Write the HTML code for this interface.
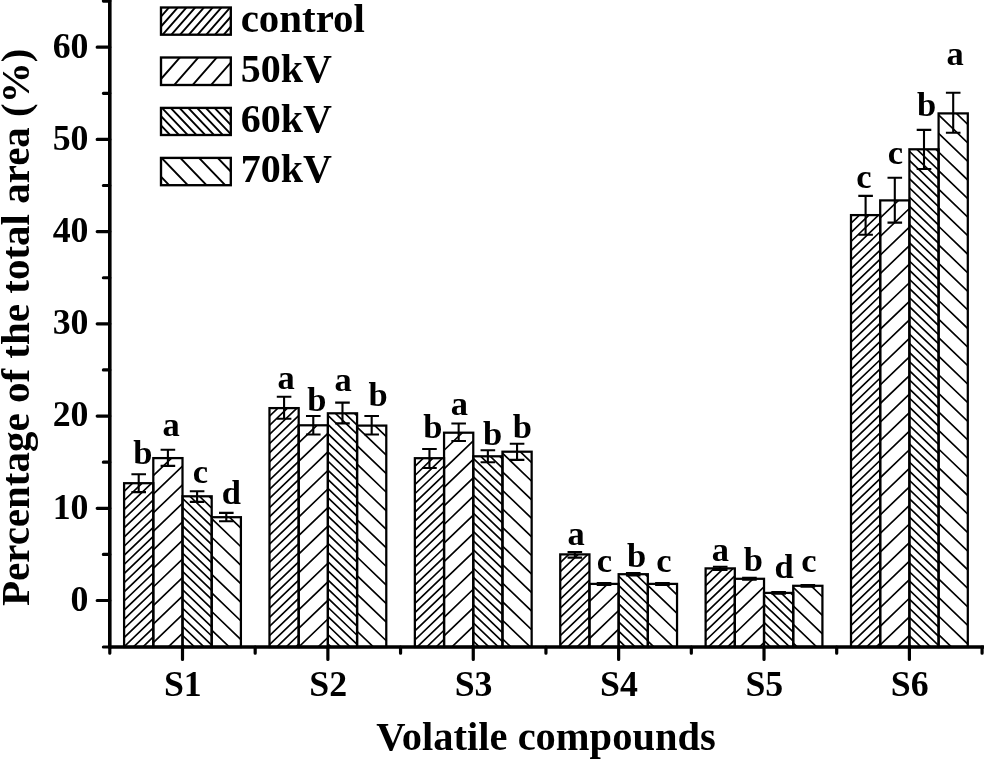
<!DOCTYPE html>
<html><head><meta charset="utf-8"><title>Volatile compounds</title>
<style>
html,body{margin:0;padding:0;background:#fff;}
body{width:984px;height:759px;overflow:hidden;}
svg{display:block;}
text{font-family:"Liberation Serif","Times New Roman",serif;font-weight:bold;fill:#000;}
.t32{font-size:35.8px;}
.t34{font-size:34.5px;}
.t39{font-size:40px;}
.t40{font-size:40.5px;}
.t41{font-size:41px;}
.h{stroke:#000;stroke-width:1.65;fill:none;}
.b{stroke:#000;stroke-width:2.25;fill:none;}
.lh{stroke:#000;stroke-width:1.9;fill:none;}
.lb{stroke:#000;stroke-width:2.35;fill:none;}
.e{stroke:#000;stroke-width:2.1;fill:none;}
.a{stroke:#000;stroke-width:3.6;fill:none;stroke-linecap:butt;}
.tk{stroke:#000;stroke-width:3.2;fill:none;stroke-linecap:round;}
</style></head><body>
<svg width="984" height="759" viewBox="0 0 984 759">
<rect width="984" height="759" fill="#fff"/>

<g id="bars">
<clipPath id="c1"><rect x="124.10" y="483.20" width="29.20" height="163.80"/></clipPath>
<path class="h" clip-path="url(#c1)" d="M124.10 491.34L153.30 463.31M124.10 500.48L153.30 472.45M124.10 509.62L153.30 481.59M124.10 518.76L153.30 490.73M124.10 527.90L153.30 499.87M124.10 537.04L153.30 509.01M124.10 546.18L153.30 518.15M124.10 555.32L153.30 527.29M124.10 564.46L153.30 536.43M124.10 573.60L153.30 545.57M124.10 582.74L153.30 554.71M124.10 591.88L153.30 563.85M124.10 601.02L153.30 572.99M124.10 610.16L153.30 582.13M124.10 619.30L153.30 591.27M124.10 628.44L153.30 600.41M124.10 637.58L153.30 609.55M124.10 646.72L153.30 618.69M124.10 655.86L153.30 627.83M124.10 665.00L153.30 636.97M124.10 674.14L153.30 646.11"/>
<rect class="b" x="124.10" y="483.20" width="29.20" height="163.80"/>
<clipPath id="c2"><rect x="153.30" y="458.10" width="29.20" height="188.90"/></clipPath>
<path class="h" clip-path="url(#c2)" d="M153.30 475.66L182.50 447.63M153.30 494.22L182.50 466.19M153.30 512.78L182.50 484.75M153.30 531.34L182.50 503.31M153.30 549.90L182.50 521.87M153.30 568.46L182.50 540.43M153.30 587.02L182.50 558.99M153.30 605.58L182.50 577.55M153.30 624.14L182.50 596.11M153.30 642.70L182.50 614.67M153.30 661.26L182.50 633.23"/>
<rect class="b" x="153.30" y="458.10" width="29.20" height="188.90"/>
<clipPath id="c3"><rect x="182.50" y="496.30" width="29.20" height="150.70"/></clipPath>
<path class="h" clip-path="url(#c3)" d="M182.50 470.88L211.70 498.91M182.50 480.02L211.70 508.05M182.50 489.16L211.70 517.19M182.50 498.30L211.70 526.33M182.50 507.44L211.70 535.47M182.50 516.58L211.70 544.61M182.50 525.72L211.70 553.75M182.50 534.86L211.70 562.89M182.50 544.00L211.70 572.03M182.50 553.14L211.70 581.17M182.50 562.28L211.70 590.31M182.50 571.42L211.70 599.45M182.50 580.56L211.70 608.59M182.50 589.70L211.70 617.73M182.50 598.84L211.70 626.87M182.50 607.98L211.70 636.01M182.50 617.12L211.70 645.15M182.50 626.26L211.70 654.29M182.50 635.40L211.70 663.43M182.50 644.54L211.70 672.57"/>
<rect class="b" x="182.50" y="496.30" width="29.20" height="150.70"/>
<clipPath id="c4"><rect x="211.70" y="517.20" width="29.20" height="129.80"/></clipPath>
<path class="h" clip-path="url(#c4)" d="M211.70 500.14L240.90 528.17M211.70 518.70L240.90 546.73M211.70 537.26L240.90 565.29M211.70 555.82L240.90 583.85M211.70 574.38L240.90 602.41M211.70 592.94L240.90 620.97M211.70 611.50L240.90 639.53M211.70 630.06L240.90 658.09"/>
<rect class="b" x="211.70" y="517.20" width="29.20" height="129.80"/>
<clipPath id="c5"><rect x="269.48" y="408.10" width="29.20" height="238.90"/></clipPath>
<path class="h" clip-path="url(#c5)" d="M269.48 416.24L298.68 388.21M269.48 425.38L298.68 397.35M269.48 434.52L298.68 406.49M269.48 443.66L298.68 415.63M269.48 452.80L298.68 424.77M269.48 461.94L298.68 433.91M269.48 471.08L298.68 443.05M269.48 480.22L298.68 452.19M269.48 489.36L298.68 461.33M269.48 498.50L298.68 470.47M269.48 507.64L298.68 479.61M269.48 516.78L298.68 488.75M269.48 525.92L298.68 497.89M269.48 535.06L298.68 507.03M269.48 544.20L298.68 516.17M269.48 553.34L298.68 525.31M269.48 562.48L298.68 534.45M269.48 571.62L298.68 543.59M269.48 580.76L298.68 552.73M269.48 589.90L298.68 561.87M269.48 599.04L298.68 571.01M269.48 608.18L298.68 580.15M269.48 617.32L298.68 589.29M269.48 626.46L298.68 598.43M269.48 635.60L298.68 607.57M269.48 644.74L298.68 616.71M269.48 653.88L298.68 625.85M269.48 663.02L298.68 634.99M269.48 672.16L298.68 644.13"/>
<rect class="b" x="269.48" y="408.10" width="29.20" height="238.90"/>
<clipPath id="c6"><rect x="298.68" y="425.30" width="29.20" height="221.70"/></clipPath>
<path class="h" clip-path="url(#c6)" d="M298.68 442.86L327.88 414.83M298.68 461.42L327.88 433.39M298.68 479.98L327.88 451.95M298.68 498.54L327.88 470.51M298.68 517.10L327.88 489.07M298.68 535.66L327.88 507.63M298.68 554.22L327.88 526.19M298.68 572.78L327.88 544.75M298.68 591.34L327.88 563.31M298.68 609.90L327.88 581.87M298.68 628.46L327.88 600.43M298.68 647.02L327.88 618.99M298.68 665.58L327.88 637.55"/>
<rect class="b" x="298.68" y="425.30" width="29.20" height="221.70"/>
<clipPath id="c7"><rect x="327.88" y="413.30" width="29.20" height="233.70"/></clipPath>
<path class="h" clip-path="url(#c7)" d="M327.88 387.88L357.08 415.91M327.88 397.02L357.08 425.05M327.88 406.16L357.08 434.19M327.88 415.30L357.08 443.33M327.88 424.44L357.08 452.47M327.88 433.58L357.08 461.61M327.88 442.72L357.08 470.75M327.88 451.86L357.08 479.89M327.88 461.00L357.08 489.03M327.88 470.14L357.08 498.17M327.88 479.28L357.08 507.31M327.88 488.42L357.08 516.45M327.88 497.56L357.08 525.59M327.88 506.70L357.08 534.73M327.88 515.84L357.08 543.87M327.88 524.98L357.08 553.01M327.88 534.12L357.08 562.15M327.88 543.26L357.08 571.29M327.88 552.40L357.08 580.43M327.88 561.54L357.08 589.57M327.88 570.68L357.08 598.71M327.88 579.82L357.08 607.85M327.88 588.96L357.08 616.99M327.88 598.10L357.08 626.13M327.88 607.24L357.08 635.27M327.88 616.38L357.08 644.41M327.88 625.52L357.08 653.55M327.88 634.66L357.08 662.69M327.88 643.80L357.08 671.83"/>
<rect class="b" x="327.88" y="413.30" width="29.20" height="233.70"/>
<clipPath id="c8"><rect x="357.08" y="425.60" width="29.20" height="221.40"/></clipPath>
<path class="h" clip-path="url(#c8)" d="M357.08 408.54L386.28 436.57M357.08 427.10L386.28 455.13M357.08 445.66L386.28 473.69M357.08 464.22L386.28 492.25M357.08 482.78L386.28 510.81M357.08 501.34L386.28 529.37M357.08 519.90L386.28 547.93M357.08 538.46L386.28 566.49M357.08 557.02L386.28 585.05M357.08 575.58L386.28 603.61M357.08 594.14L386.28 622.17M357.08 612.70L386.28 640.73M357.08 631.26L386.28 659.29"/>
<rect class="b" x="357.08" y="425.60" width="29.20" height="221.40"/>
<clipPath id="c9"><rect x="414.86" y="458.20" width="29.20" height="188.80"/></clipPath>
<path class="h" clip-path="url(#c9)" d="M414.86 466.34L444.06 438.31M414.86 475.48L444.06 447.45M414.86 484.62L444.06 456.59M414.86 493.76L444.06 465.73M414.86 502.90L444.06 474.87M414.86 512.04L444.06 484.01M414.86 521.18L444.06 493.15M414.86 530.32L444.06 502.29M414.86 539.46L444.06 511.43M414.86 548.60L444.06 520.57M414.86 557.74L444.06 529.71M414.86 566.88L444.06 538.85M414.86 576.02L444.06 547.99M414.86 585.16L444.06 557.13M414.86 594.30L444.06 566.27M414.86 603.44L444.06 575.41M414.86 612.58L444.06 584.55M414.86 621.72L444.06 593.69M414.86 630.86L444.06 602.83M414.86 640.00L444.06 611.97M414.86 649.14L444.06 621.11M414.86 658.28L444.06 630.25M414.86 667.42L444.06 639.39"/>
<rect class="b" x="414.86" y="458.20" width="29.20" height="188.80"/>
<clipPath id="c10"><rect x="444.06" y="432.70" width="29.20" height="214.30"/></clipPath>
<path class="h" clip-path="url(#c10)" d="M444.06 450.26L473.26 422.23M444.06 468.82L473.26 440.79M444.06 487.38L473.26 459.35M444.06 505.94L473.26 477.91M444.06 524.50L473.26 496.47M444.06 543.06L473.26 515.03M444.06 561.62L473.26 533.59M444.06 580.18L473.26 552.15M444.06 598.74L473.26 570.71M444.06 617.30L473.26 589.27M444.06 635.86L473.26 607.83M444.06 654.42L473.26 626.39M444.06 672.98L473.26 644.95"/>
<rect class="b" x="444.06" y="432.70" width="29.20" height="214.30"/>
<clipPath id="c11"><rect x="473.26" y="456.30" width="29.20" height="190.70"/></clipPath>
<path class="h" clip-path="url(#c11)" d="M473.26 430.88L502.46 458.91M473.26 440.02L502.46 468.05M473.26 449.16L502.46 477.19M473.26 458.30L502.46 486.33M473.26 467.44L502.46 495.47M473.26 476.58L502.46 504.61M473.26 485.72L502.46 513.75M473.26 494.86L502.46 522.89M473.26 504.00L502.46 532.03M473.26 513.14L502.46 541.17M473.26 522.28L502.46 550.31M473.26 531.42L502.46 559.45M473.26 540.56L502.46 568.59M473.26 549.70L502.46 577.73M473.26 558.84L502.46 586.87M473.26 567.98L502.46 596.01M473.26 577.12L502.46 605.15M473.26 586.26L502.46 614.29M473.26 595.40L502.46 623.43M473.26 604.54L502.46 632.57M473.26 613.68L502.46 641.71M473.26 622.82L502.46 650.85M473.26 631.96L502.46 659.99M473.26 641.10L502.46 669.13"/>
<rect class="b" x="473.26" y="456.30" width="29.20" height="190.70"/>
<clipPath id="c12"><rect x="502.46" y="451.70" width="29.20" height="195.30"/></clipPath>
<path class="h" clip-path="url(#c12)" d="M502.46 434.64L531.66 462.67M502.46 453.20L531.66 481.23M502.46 471.76L531.66 499.79M502.46 490.32L531.66 518.35M502.46 508.88L531.66 536.91M502.46 527.44L531.66 555.47M502.46 546.00L531.66 574.03M502.46 564.56L531.66 592.59M502.46 583.12L531.66 611.15M502.46 601.68L531.66 629.71M502.46 620.24L531.66 648.27M502.46 638.80L531.66 666.83"/>
<rect class="b" x="502.46" y="451.70" width="29.20" height="195.30"/>
<clipPath id="c13"><rect x="560.24" y="554.40" width="29.20" height="92.60"/></clipPath>
<path class="h" clip-path="url(#c13)" d="M560.24 562.54L589.44 534.51M560.24 571.68L589.44 543.65M560.24 580.82L589.44 552.79M560.24 589.96L589.44 561.93M560.24 599.10L589.44 571.07M560.24 608.24L589.44 580.21M560.24 617.38L589.44 589.35M560.24 626.52L589.44 598.49M560.24 635.66L589.44 607.63M560.24 644.80L589.44 616.77M560.24 653.94L589.44 625.91M560.24 663.08L589.44 635.05M560.24 672.22L589.44 644.19"/>
<rect class="b" x="560.24" y="554.40" width="29.20" height="92.60"/>
<clipPath id="c14"><rect x="589.44" y="583.90" width="29.20" height="63.10"/></clipPath>
<path class="h" clip-path="url(#c14)" d="M589.44 601.46L618.64 573.43M589.44 620.02L618.64 591.99M589.44 638.58L618.64 610.55M589.44 657.14L618.64 629.11"/>
<rect class="b" x="589.44" y="583.90" width="29.20" height="63.10"/>
<clipPath id="c15"><rect x="618.64" y="574.20" width="29.20" height="72.80"/></clipPath>
<path class="h" clip-path="url(#c15)" d="M618.64 548.78L647.84 576.81M618.64 557.92L647.84 585.95M618.64 567.06L647.84 595.09M618.64 576.20L647.84 604.23M618.64 585.34L647.84 613.37M618.64 594.48L647.84 622.51M618.64 603.62L647.84 631.65M618.64 612.76L647.84 640.79M618.64 621.90L647.84 649.93M618.64 631.04L647.84 659.07M618.64 640.18L647.84 668.21"/>
<rect class="b" x="618.64" y="574.20" width="29.20" height="72.80"/>
<clipPath id="c16"><rect x="647.84" y="583.90" width="29.20" height="63.10"/></clipPath>
<path class="h" clip-path="url(#c16)" d="M647.84 566.84L677.04 594.87M647.84 585.40L677.04 613.43M647.84 603.96L677.04 631.99M647.84 622.52L677.04 650.55M647.84 641.08L677.04 669.11"/>
<rect class="b" x="647.84" y="583.90" width="29.20" height="63.10"/>
<clipPath id="c17"><rect x="705.62" y="568.40" width="29.20" height="78.60"/></clipPath>
<path class="h" clip-path="url(#c17)" d="M705.62 576.54L734.82 548.51M705.62 585.68L734.82 557.65M705.62 594.82L734.82 566.79M705.62 603.96L734.82 575.93M705.62 613.10L734.82 585.07M705.62 622.24L734.82 594.21M705.62 631.38L734.82 603.35M705.62 640.52L734.82 612.49M705.62 649.66L734.82 621.63M705.62 658.80L734.82 630.77M705.62 667.94L734.82 639.91"/>
<rect class="b" x="705.62" y="568.40" width="29.20" height="78.60"/>
<clipPath id="c18"><rect x="734.82" y="578.80" width="29.20" height="68.20"/></clipPath>
<path class="h" clip-path="url(#c18)" d="M734.82 596.36L764.02 568.33M734.82 614.92L764.02 586.89M734.82 633.48L764.02 605.45M734.82 652.04L764.02 624.01M734.82 670.60L764.02 642.57"/>
<rect class="b" x="734.82" y="578.80" width="29.20" height="68.20"/>
<clipPath id="c19"><rect x="764.02" y="592.90" width="29.20" height="54.10"/></clipPath>
<path class="h" clip-path="url(#c19)" d="M764.02 567.48L793.22 595.51M764.02 576.62L793.22 604.65M764.02 585.76L793.22 613.79M764.02 594.90L793.22 622.93M764.02 604.04L793.22 632.07M764.02 613.18L793.22 641.21M764.02 622.32L793.22 650.35M764.02 631.46L793.22 659.49M764.02 640.60L793.22 668.63"/>
<rect class="b" x="764.02" y="592.90" width="29.20" height="54.10"/>
<clipPath id="c20"><rect x="793.22" y="585.80" width="29.20" height="61.20"/></clipPath>
<path class="h" clip-path="url(#c20)" d="M793.22 568.74L822.42 596.77M793.22 587.30L822.42 615.33M793.22 605.86L822.42 633.89M793.22 624.42L822.42 652.45M793.22 642.98L822.42 671.01"/>
<rect class="b" x="793.22" y="585.80" width="29.20" height="61.20"/>
<clipPath id="c21"><rect x="851.00" y="215.10" width="29.20" height="431.90"/></clipPath>
<path class="h" clip-path="url(#c21)" d="M851.00 223.24L880.20 195.21M851.00 232.38L880.20 204.35M851.00 241.52L880.20 213.49M851.00 250.66L880.20 222.63M851.00 259.80L880.20 231.77M851.00 268.94L880.20 240.91M851.00 278.08L880.20 250.05M851.00 287.22L880.20 259.19M851.00 296.36L880.20 268.33M851.00 305.50L880.20 277.47M851.00 314.64L880.20 286.61M851.00 323.78L880.20 295.75M851.00 332.92L880.20 304.89M851.00 342.06L880.20 314.03M851.00 351.20L880.20 323.17M851.00 360.34L880.20 332.31M851.00 369.48L880.20 341.45M851.00 378.62L880.20 350.59M851.00 387.76L880.20 359.73M851.00 396.90L880.20 368.87M851.00 406.04L880.20 378.01M851.00 415.18L880.20 387.15M851.00 424.32L880.20 396.29M851.00 433.46L880.20 405.43M851.00 442.60L880.20 414.57M851.00 451.74L880.20 423.71M851.00 460.88L880.20 432.85M851.00 470.02L880.20 441.99M851.00 479.16L880.20 451.13M851.00 488.30L880.20 460.27M851.00 497.44L880.20 469.41M851.00 506.58L880.20 478.55M851.00 515.72L880.20 487.69M851.00 524.86L880.20 496.83M851.00 534.00L880.20 505.97M851.00 543.14L880.20 515.11M851.00 552.28L880.20 524.25M851.00 561.42L880.20 533.39M851.00 570.56L880.20 542.53M851.00 579.70L880.20 551.67M851.00 588.84L880.20 560.81M851.00 597.98L880.20 569.95M851.00 607.12L880.20 579.09M851.00 616.26L880.20 588.23M851.00 625.40L880.20 597.37M851.00 634.54L880.20 606.51M851.00 643.68L880.20 615.65M851.00 652.82L880.20 624.79M851.00 661.96L880.20 633.93M851.00 671.10L880.20 643.07"/>
<rect class="b" x="851.00" y="215.10" width="29.20" height="431.90"/>
<clipPath id="c22"><rect x="880.20" y="200.40" width="29.20" height="446.60"/></clipPath>
<path class="h" clip-path="url(#c22)" d="M880.20 217.96L909.40 189.93M880.20 236.52L909.40 208.49M880.20 255.08L909.40 227.05M880.20 273.64L909.40 245.61M880.20 292.20L909.40 264.17M880.20 310.76L909.40 282.73M880.20 329.32L909.40 301.29M880.20 347.88L909.40 319.85M880.20 366.44L909.40 338.41M880.20 385.00L909.40 356.97M880.20 403.56L909.40 375.53M880.20 422.12L909.40 394.09M880.20 440.68L909.40 412.65M880.20 459.24L909.40 431.21M880.20 477.80L909.40 449.77M880.20 496.36L909.40 468.33M880.20 514.92L909.40 486.89M880.20 533.48L909.40 505.45M880.20 552.04L909.40 524.01M880.20 570.60L909.40 542.57M880.20 589.16L909.40 561.13M880.20 607.72L909.40 579.69M880.20 626.28L909.40 598.25M880.20 644.84L909.40 616.81M880.20 663.40L909.40 635.37"/>
<rect class="b" x="880.20" y="200.40" width="29.20" height="446.60"/>
<clipPath id="c23"><rect x="909.40" y="149.30" width="29.20" height="497.70"/></clipPath>
<path class="h" clip-path="url(#c23)" d="M909.40 123.88L938.60 151.91M909.40 133.02L938.60 161.05M909.40 142.16L938.60 170.19M909.40 151.30L938.60 179.33M909.40 160.44L938.60 188.47M909.40 169.58L938.60 197.61M909.40 178.72L938.60 206.75M909.40 187.86L938.60 215.89M909.40 197.00L938.60 225.03M909.40 206.14L938.60 234.17M909.40 215.28L938.60 243.31M909.40 224.42L938.60 252.45M909.40 233.56L938.60 261.59M909.40 242.70L938.60 270.73M909.40 251.84L938.60 279.87M909.40 260.98L938.60 289.01M909.40 270.12L938.60 298.15M909.40 279.26L938.60 307.29M909.40 288.40L938.60 316.43M909.40 297.54L938.60 325.57M909.40 306.68L938.60 334.71M909.40 315.82L938.60 343.85M909.40 324.96L938.60 352.99M909.40 334.10L938.60 362.13M909.40 343.24L938.60 371.27M909.40 352.38L938.60 380.41M909.40 361.52L938.60 389.55M909.40 370.66L938.60 398.69M909.40 379.80L938.60 407.83M909.40 388.94L938.60 416.97M909.40 398.08L938.60 426.11M909.40 407.22L938.60 435.25M909.40 416.36L938.60 444.39M909.40 425.50L938.60 453.53M909.40 434.64L938.60 462.67M909.40 443.78L938.60 471.81M909.40 452.92L938.60 480.95M909.40 462.06L938.60 490.09M909.40 471.20L938.60 499.23M909.40 480.34L938.60 508.37M909.40 489.48L938.60 517.51M909.40 498.62L938.60 526.65M909.40 507.76L938.60 535.79M909.40 516.90L938.60 544.93M909.40 526.04L938.60 554.07M909.40 535.18L938.60 563.21M909.40 544.32L938.60 572.35M909.40 553.46L938.60 581.49M909.40 562.60L938.60 590.63M909.40 571.74L938.60 599.77M909.40 580.88L938.60 608.91M909.40 590.02L938.60 618.05M909.40 599.16L938.60 627.19M909.40 608.30L938.60 636.33M909.40 617.44L938.60 645.47M909.40 626.58L938.60 654.61M909.40 635.72L938.60 663.75M909.40 644.86L938.60 672.89"/>
<rect class="b" x="909.40" y="149.30" width="29.20" height="497.70"/>
<clipPath id="c24"><rect x="938.60" y="113.40" width="29.20" height="533.60"/></clipPath>
<path class="h" clip-path="url(#c24)" d="M938.60 96.34L967.80 124.37M938.60 114.90L967.80 142.93M938.60 133.46L967.80 161.49M938.60 152.02L967.80 180.05M938.60 170.58L967.80 198.61M938.60 189.14L967.80 217.17M938.60 207.70L967.80 235.73M938.60 226.26L967.80 254.29M938.60 244.82L967.80 272.85M938.60 263.38L967.80 291.41M938.60 281.94L967.80 309.97M938.60 300.50L967.80 328.53M938.60 319.06L967.80 347.09M938.60 337.62L967.80 365.65M938.60 356.18L967.80 384.21M938.60 374.74L967.80 402.77M938.60 393.30L967.80 421.33M938.60 411.86L967.80 439.89M938.60 430.42L967.80 458.45M938.60 448.98L967.80 477.01M938.60 467.54L967.80 495.57M938.60 486.10L967.80 514.13M938.60 504.66L967.80 532.69M938.60 523.22L967.80 551.25M938.60 541.78L967.80 569.81M938.60 560.34L967.80 588.37M938.60 578.90L967.80 606.93M938.60 597.46L967.80 625.49M938.60 616.02L967.80 644.05M938.60 634.58L967.80 662.61"/>
<rect class="b" x="938.60" y="113.40" width="29.20" height="533.60"/>
</g>
<g id="errs">
<path class="e" d="M138.70 474.20V492.10M131.40 474.20H146.00M131.40 492.10H146.00"/>
<path class="e" d="M167.90 449.80V465.90M160.60 449.80H175.20M160.60 465.90H175.20"/>
<path class="e" d="M197.10 491.30V501.90M189.80 491.30H204.40M189.80 501.90H204.40"/>
<path class="e" d="M226.30 512.90V521.20M219.00 512.90H233.60M219.00 521.20H233.60"/>
<path class="e" d="M284.08 396.80V418.80M276.78 396.80H291.38M276.78 418.80H291.38"/>
<path class="e" d="M313.28 416.00V434.50M305.98 416.00H320.58M305.98 434.50H320.58"/>
<path class="e" d="M342.48 402.60V423.40M335.18 402.60H349.78M335.18 423.40H349.78"/>
<path class="e" d="M371.68 416.00V434.50M364.38 416.00H378.98M364.38 434.50H378.98"/>
<path class="e" d="M429.46 449.00V468.00M422.16 449.00H436.76M422.16 468.00H436.76"/>
<path class="e" d="M458.66 423.50V441.00M451.36 423.50H465.96M451.36 441.00H465.96"/>
<path class="e" d="M487.86 450.30V462.30M480.56 450.30H495.16M480.56 462.30H495.16"/>
<path class="e" d="M517.06 443.80V459.90M509.76 443.80H524.36M509.76 459.90H524.36"/>
<path class="e" d="M574.84 552.00V557.60M567.54 552.00H582.14M567.54 557.60H582.14"/>
<path class="e" d="M604.04 583.00V585.00M596.74 583.00H611.34M596.74 585.00H611.34"/>
<path class="e" d="M633.24 573.00V575.40M625.94 573.00H640.54M625.94 575.40H640.54"/>
<path class="e" d="M662.44 583.00V585.00M655.14 583.00H669.74M655.14 585.00H669.74"/>
<path class="e" d="M720.22 566.80V570.00M712.92 566.80H727.52M712.92 570.00H727.52"/>
<path class="e" d="M749.42 577.90V579.70M742.12 577.90H756.72M742.12 579.70H756.72"/>
<path class="e" d="M778.62 592.10V593.70M771.32 592.10H785.92M771.32 593.70H785.92"/>
<path class="e" d="M807.82 585.00V586.60M800.52 585.00H815.12M800.52 586.60H815.12"/>
<path class="e" d="M865.60 195.90V234.70M858.30 195.90H872.90M858.30 234.70H872.90"/>
<path class="e" d="M894.80 177.70V222.60M887.50 177.70H902.10M887.50 222.60H902.10"/>
<path class="e" d="M924.00 129.90V169.00M916.70 129.90H931.30M916.70 169.00H931.30"/>
<path class="e" d="M953.20 92.80V132.80M945.90 92.80H960.50M945.90 132.80H960.50"/>
</g>
<g id="sig" class="t34" text-anchor="middle">
<text x="142.8" y="464.1">b</text>
<text x="171.0" y="435.6">a</text>
<text x="200.3" y="483.1">c</text>
<text x="231.4" y="504.3">d</text>
<text x="286.0" y="388.8">a</text>
<text x="316.8" y="410.6">b</text>
<text x="343.2" y="390.8">a</text>
<text x="378.2" y="406.0">b</text>
<text x="432.8" y="437.8">b</text>
<text x="459.4" y="414.5">a</text>
<text x="492.6" y="444.8">b</text>
<text x="522.3" y="438.1">b</text>
<text x="576.0" y="545.4">a</text>
<text x="604.4" y="571.6">c</text>
<text x="636.7" y="567.2">b</text>
<text x="664.0" y="572.2">c</text>
<text x="720.4" y="560.6">a</text>
<text x="753.3" y="571.1">b</text>
<text x="784.1" y="577.7">d</text>
<text x="809.0" y="572.2">c</text>
<text x="863.8" y="187.9">c</text>
<text x="895.4" y="163.8">c</text>
<text x="926.7" y="115.5">b</text>
<text x="955.0" y="64.8">a</text>
</g>
<g id="axes">
<path class="a" d="M109.8 0V648.5"/>
<path class="a" d="M109.8 647.0H984"/>
<path class="tk" d="M97.2 600.50H109.8M97.2 508.28H109.8M97.2 416.06H109.8M97.2 323.84H109.8M97.2 231.62H109.8M97.2 139.40H109.8M97.2 47.18H109.8M103.39999999999999 647.00H109.8M103.39999999999999 554.39H109.8M103.39999999999999 462.17H109.8M103.39999999999999 369.95H109.8M103.39999999999999 277.73H109.8M103.39999999999999 185.51H109.8M103.39999999999999 93.29H109.8M103.39999999999999 1.07H109.8M182.50 647.0V659.4M327.88 647.0V659.4M473.26 647.0V659.4M618.64 647.0V659.4M764.02 647.0V659.4M909.40 647.0V659.4M109.80 647.0V653.2M255.18 647.0V653.2M400.56 647.0V653.2M545.94 647.0V653.2M691.32 647.0V653.2M836.70 647.0V653.2M982.08 647.0V653.2"/>
</g>
<g class="t32" text-anchor="end">
<text x="88.5" y="610.8">0</text>
<text x="88.5" y="518.6">10</text>
<text x="88.5" y="426.4">20</text>
<text x="88.5" y="334.1">30</text>
<text x="88.5" y="241.9">40</text>
<text x="88.5" y="149.7">50</text>
<text x="88.5" y="57.5">60</text>
</g>
<g class="t32" text-anchor="middle">
<text x="182.8" y="695.9">S1</text>
<text x="328.2" y="695.9">S2</text>
<text x="473.6" y="695.9">S3</text>
<text x="618.9" y="695.9">S4</text>
<text x="764.3" y="695.9">S5</text>
<text x="909.7" y="695.9">S6</text>
</g>
<text class="t40" text-anchor="middle" x="546.0" y="749.5">Volatile compounds</text>
<text class="t41" text-anchor="middle" transform="translate(28.7 327.3) rotate(-90)">Percentage of the total area (%)</text>
<g id="legend">
<clipPath id="c25"><rect x="161.0" y="7.5" width="69.80" height="27.20"/></clipPath>
<path class="lh" clip-path="url(#c25)" d="M161.00 16.60L230.80 -62.98M161.00 26.56L230.80 -53.01M161.00 36.52L230.80 -43.05M161.00 46.49L230.80 -33.08M161.00 56.45L230.80 -23.12M161.00 66.41L230.80 -13.16M161.00 76.38L230.80 -3.19M161.00 86.34L230.80 6.77M161.00 96.31L230.80 16.73M161.00 106.27L230.80 26.70"/>
<rect class="lb" x="161.0" y="7.5" width="69.80" height="27.20"/>
<text class="t39" x="240.7" y="32.0" textLength="124.2" lengthAdjust="spacingAndGlyphs">control</text>
<clipPath id="c26"><rect x="161.0" y="57.5" width="69.80" height="27.50"/></clipPath>
<path class="lh" clip-path="url(#c26)" d="M161.00 57.98L230.80 -21.59M161.00 79.01L230.80 -0.56M161.00 100.05L230.80 20.48M161.00 121.08L230.80 41.51M161.00 142.11L230.80 62.54M161.00 163.15L230.80 83.57"/>
<rect class="lb" x="161.0" y="57.5" width="69.80" height="27.50"/>
<text class="t39" x="240.7" y="82.1">50kV</text>
<clipPath id="c27"><rect x="161.0" y="107.9" width="69.80" height="27.10"/></clipPath>
<path class="lh" clip-path="url(#c27)" d="M161.00 42.42L230.80 115.71M161.00 51.64L230.80 124.93M161.00 60.86L230.80 134.15M161.00 70.08L230.80 143.37M161.00 79.30L230.80 152.59M161.00 88.52L230.80 161.81M161.00 97.74L230.80 171.03M161.00 106.95L230.80 180.25M161.00 116.17L230.80 189.46M161.00 125.39L230.80 198.68M161.00 134.61L230.80 207.90"/>
<rect class="lb" x="161.0" y="107.9" width="69.80" height="27.10"/>
<text class="t39" x="240.7" y="132.0">60kV</text>
<clipPath id="c28"><rect x="161.0" y="157.9" width="69.80" height="27.30"/></clipPath>
<path class="lh" clip-path="url(#c28)" d="M161.00 98.93L230.80 171.52M161.00 118.38L230.80 190.97M161.00 137.83L230.80 210.42M161.00 157.28L230.80 229.87M161.00 176.72L230.80 249.32"/>
<rect class="lb" x="161.0" y="157.9" width="69.80" height="27.30"/>
<text class="t39" x="240.7" y="182.2">70kV</text>
</g>
</svg></body></html>
